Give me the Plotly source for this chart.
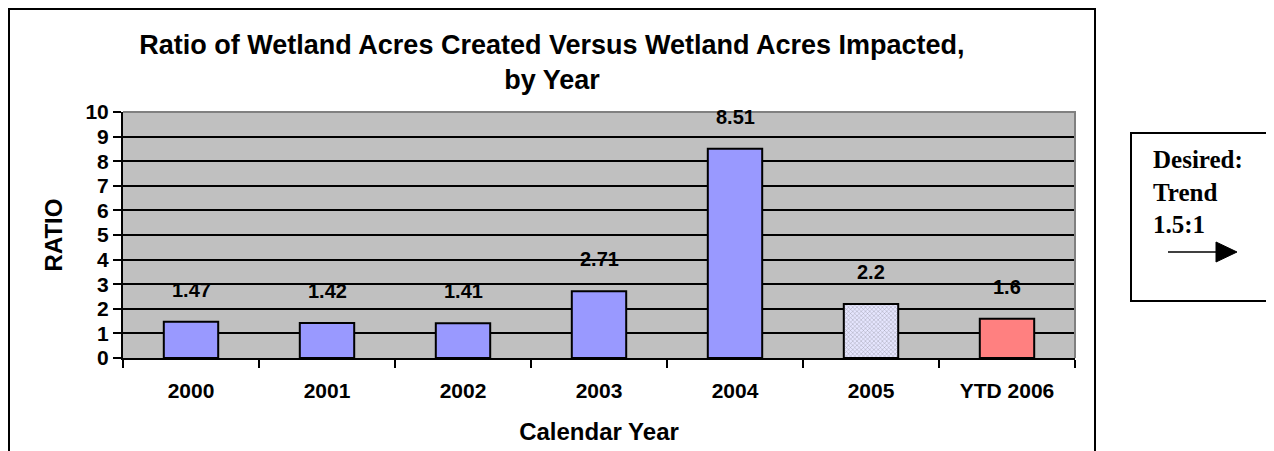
import plotly.graph_objects as go

categories = ["2000", "2001", "2002", "2003", "2004", "2005", "YTD 2006"]
ratios = [1.47, 1.42, 1.41, 2.71, 8.51, 2.2, 1.6]
label_text = ["1.47", "1.42", "1.41", "2.71", "8.51", "2.2", "1.6"]
bar_colors = ["#9999ff"] * 5 + ["#e6e6ff", "#ff8080"]
bar_patterns = ["", "", "", "", "", "x", ""]
y_ticks = list(range(0, 11))

# page has an 8px body margin, so the figure sits at (8, 8) on screen
W, H = 1266, 443
L, R, T, B = 115, 1067, 104, 350

def px_x(p):
    return (p - L) / (R - L)

def px_y(p):
    return 1 - (p - T) / (B - T)

fig = go.Figure()
fig.add_trace(go.Bar(
    x=categories, y=ratios, width=0.4,
    marker=dict(
        color=bar_colors,
        line=dict(color="black", width=2),
        pattern=dict(shape=bar_patterns, fgcolor="#a0a0f0", bgcolor="white",
                     size=3, solidity=0.25),
    ),
    hoverinfo="skip",
))

for i, (v, t) in enumerate(zip(ratios, label_text)):
    fig.add_annotation(x=i, y=v, xref="x", yref="y", text=f"<b>{t}</b>", showarrow=False,
                       yshift=32, font=dict(family="Arial", size=20, color="black"))

shapes = [
    # plot-area border (top, right) in grey
    dict(type="path", xref="paper", yref="paper", path="M 0,1 L 1,1 L 1,0",
         line=dict(color="#808080", width=2)),
    # outer chart border (left, top, right)
    dict(type="path", xref="paper", yref="paper",
         path=f"M {px_x(1)},{px_y(460)} L {px_x(1)},{px_y(1)} L {px_x(1087)},{px_y(1)} L {px_x(1087)},{px_y(460)}",
         line=dict(color="black", width=2)),
    # right box
    dict(type="rect", xref="paper", yref="paper",
         x0=px_x(1123), x1=px_x(1264), y0=px_y(293), y1=px_y(125),
         line=dict(color="black", width=2)),
    # arrow shaft
    dict(type="line", xref="paper", yref="paper",
         x0=px_x(1160), x1=px_x(1210), y0=px_y(244), y1=px_y(244),
         line=dict(color="black", width=1.5)),
    # arrow head
    dict(type="path", xref="paper", yref="paper",
         path=f"M {px_x(1208)},{px_y(234)} L {px_x(1229)},{px_y(244)} L {px_x(1208)},{px_y(254)} Z",
         fillcolor="black", line=dict(color="black", width=1)),
]

fig.add_annotation(xref="paper", yref="paper", x=px_x(1143), y=px_y(184),
                   xanchor="left", yanchor="middle", align="left", showarrow=False,
                   text="<b>Desired:</b><br><b>Trend</b><br><b>1.5:1</b>",
                   font=dict(family="Liberation Serif", size=25, color="black"))

fig.update_layout(
    width=W, height=H,
    margin=dict(l=L, r=W - R, t=T, b=H - B, autoexpand=False),
    paper_bgcolor="white", plot_bgcolor="#c0c0c0",
    showlegend=False,
    title=dict(text="<b>Ratio of Wetland Acres Created Versus Wetland Acres Impacted,<br>by Year</b>",
               x=544 / W, xanchor="center", y=1 - 46 / H, yanchor="middle",
               font=dict(family="Arial", size=27, color="black")),
    font=dict(family="Arial", color="black"),
    shapes=shapes,
)
fig.update_xaxes(
    type="category", range=[-0.5, len(categories) - 0.5], automargin=False,
    tickfont=dict(family="Arial", size=21, color="black"),
    tickprefix="<b>", ticksuffix="</b>", ticklabelstandoff=13,
    ticks="outside", tickson="boundaries", ticklen=8, tickwidth=2, tickcolor="black",
    showline=True, linecolor="black", linewidth=2, showgrid=False,
    title=dict(text="<b>Calendar Year</b>", font=dict(family="Arial", size=24, color="black"), standoff=22),
)
fig.update_yaxes(
    range=[0, 10], tickvals=y_ticks, ticktext=[f"<b>{v}</b>" for v in y_ticks],
    automargin=False,
    tickfont=dict(family="Arial", size=21, color="black"),
    ticks="outside", ticklen=8, tickwidth=2, tickcolor="black",
    showline=True, linecolor="black", linewidth=2,
    showgrid=True, gridcolor="black", gridwidth=2, zeroline=False,
    title=dict(text="<b>RATIO</b>", font=dict(family="Arial", size=24, color="black"), standoff=16),
)

fig.write_html("out.html")
